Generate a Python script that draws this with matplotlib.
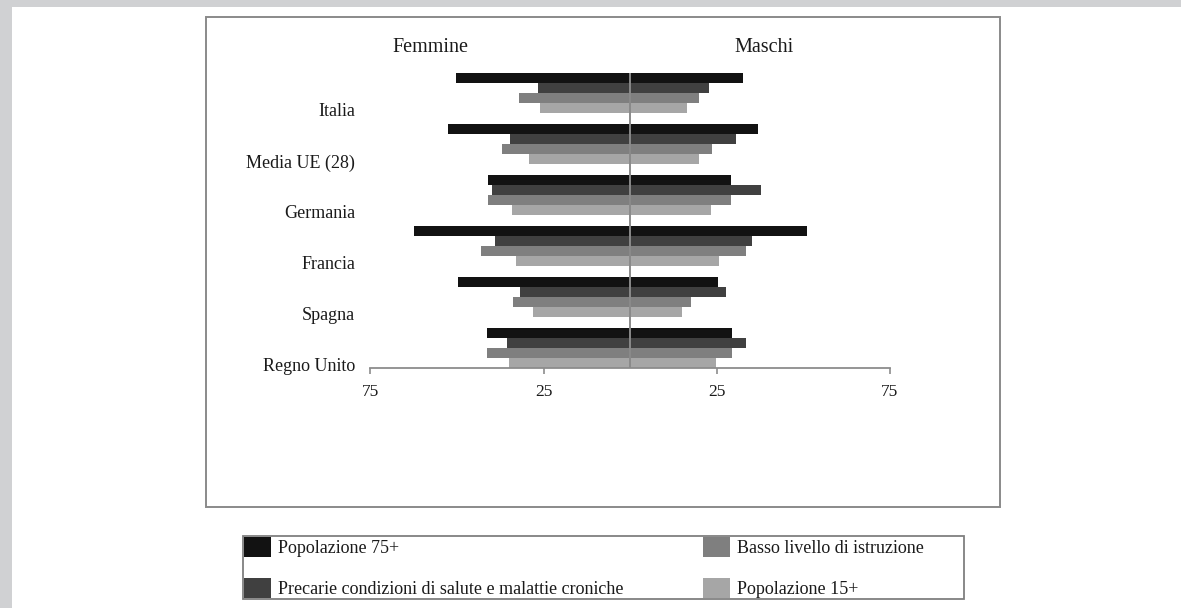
import matplotlib
matplotlib.use("Agg")
import matplotlib.pyplot as plt
from matplotlib.patches import Rectangle, Patch

plt.rcParams["font.family"] = ["Liberation Serif", "DejaVu Serif"]

# Categories and series
countries = ["Italia", "Media UE (28)", "Germania", "Francia", "Spagna", "Regno Unito"]
series_labels = [
    "Popolazione 75+",
    "Precarie condizioni di salute e malattie croniche",
    "Basso livello di istruzione",
    "Popolazione 15+",
]
series_colors = ["#121212", "#404040", "#7f7f7f", "#a6a6a6"]

# Values (%) - women (left side)
femmine_75 = [50.3, 52.6, 41.0, 62.5, 49.6, 41.3]
femmine_precarie = [26.7, 34.6, 39.9, 38.9, 31.9, 35.5]
femmine_istruzione = [32.2, 37.1, 41.0, 43.0, 33.8, 41.3]
femmine_15 = [26.0, 29.3, 34.0, 32.9, 28.1, 34.9]

# Values (%) - men (right side)
maschi_75 = [32.7, 36.9, 29.2, 51.1, 25.4, 29.5]
maschi_precarie = [22.9, 30.6, 37.9, 35.2, 27.7, 33.5]
maschi_istruzione = [20.0, 23.8, 29.2, 33.4, 17.6, 29.5]
maschi_15 = [16.6, 20.0, 23.3, 25.6, 15.1, 24.9]

tick_values = [-75, -25, 25, 75]
tick_labels = ["75", "25", "25", "75"]

femmine = [femmine_75, femmine_precarie, femmine_istruzione, femmine_15]
maschi = [maschi_75, maschi_precarie, maschi_istruzione, maschi_15]

W, H = 1181, 608


def fx(x):
    return x / W


def fy(y):
    return 1 - y / H


fig = plt.figure(figsize=(W / 100, H / 100), dpi=100, facecolor="#d0d1d3")

# white page
fig.patches.append(Rectangle((fx(12), 0), 1 - fx(12), fy(7), transform=fig.transFigure,
                             facecolor="white", edgecolor="none", zorder=-10))
# chart frame
fig.patches.append(Rectangle((fx(206), fy(507)), fx(1000) - fx(206), fy(17) - fy(507),
                             transform=fig.transFigure, facecolor="none",
                             edgecolor="#8a8a8a", linewidth=1.4, zorder=-5))

ax = fig.add_axes([fx(370.5), fy(368.3), fx(889.5) - fx(370.5), fy(72.7) - fy(368.3)])
ax.set_facecolor("none")

bar_h = 0.2
for k in range(4):
    ys = [g + (k - 1.5) * bar_h for g in range(len(countries))]
    ax.barh(ys, [-v for v in femmine[k]], height=bar_h, color=series_colors[k], linewidth=0)
    ax.barh(ys, maschi[k], height=bar_h, color=series_colors[k], linewidth=0)

ax.axvline(0, color="#8a8a8a", linewidth=1.4, zorder=3)

ax.set_xlim(-75, 75)
ax.set_ylim(len(countries) - 1 + 0.4, -0.4)

for s in ("left", "top", "right"):
    ax.spines[s].set_visible(False)
ax.spines["bottom"].set_color("#8c8c8c")
ax.spines["bottom"].set_linewidth(1.3)

ax.set_xticks(tick_values)
ax.set_xticklabels(tick_labels)
ax.tick_params(axis="x", direction="out", length=4, width=1.2, color="#8c8c8c",
               pad=7.5, labelsize=12.5, labelcolor="#1a1a1a")

ax.set_yticks([g + 0.33 for g in range(len(countries))])
ax.set_yticklabels(countries)
ax.tick_params(axis="y", length=0, pad=11, labelsize=13, labelcolor="#1a1a1a")

fig.text(fx(430.5), fy(48), "Femmine", ha="center", va="center", fontsize=14.5, color="#1a1a1a")
fig.text(fx(764.5), fy(48), "Maschi", ha="center", va="center", fontsize=14.5, color="#1a1a1a")

# legend: two columns drawn as two legends inside one frame
handles = [Patch(facecolor=c, edgecolor="none") for c in series_colors]
leg_kw = dict(loc="upper left", frameon=False, handlelength=1.5, handleheight=1.375,
              handletextpad=0.4, labelspacing=1.15, borderpad=0, borderaxespad=0,
              fontsize=13, labelcolor="#1a1a1a")
fig.legend(handles[:2], series_labels[:2], bbox_to_anchor=(fx(243.5), fy(536.5)), **leg_kw)
fig.legend(handles[2:], series_labels[2:], bbox_to_anchor=(fx(703), fy(536.5)), **leg_kw)
fig.patches.append(Rectangle((fx(243), fy(599)), fx(964) - fx(243), fy(536) - fy(599),
                             transform=fig.transFigure, facecolor="none",
                             edgecolor="#7f7f7f", linewidth=1.3, zorder=-5))

fig.savefig("out.png", dpi=100, facecolor=fig.get_facecolor())
